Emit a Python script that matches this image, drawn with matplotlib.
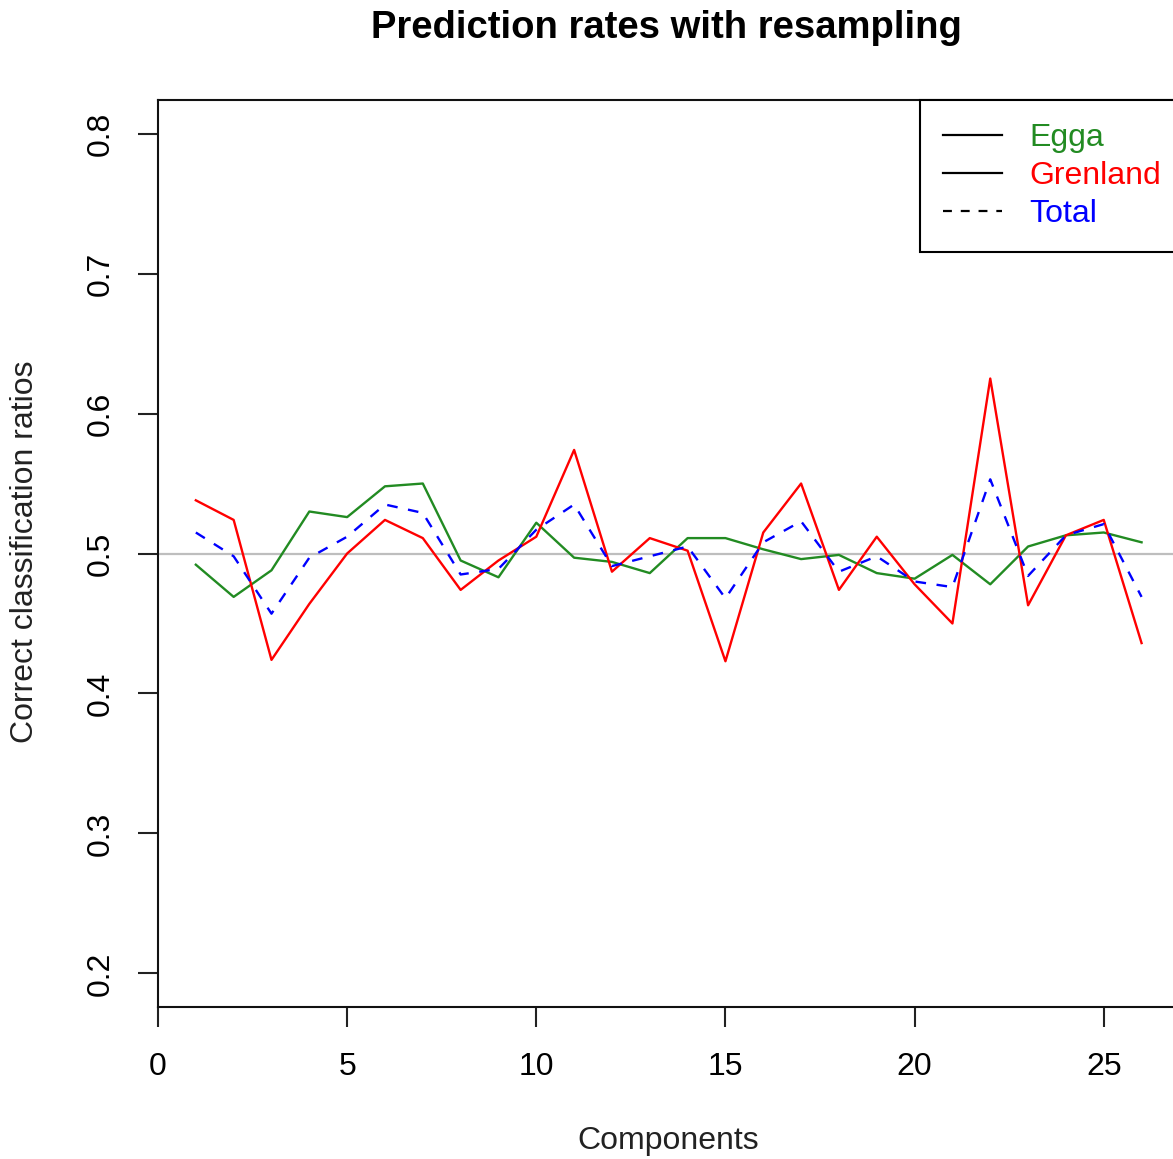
import matplotlib
matplotlib.use("Agg")
import matplotlib.pyplot as plt
from matplotlib.lines import Line2D

components = list(range(1, 27))
egga = [0.492, 0.469, 0.488, 0.530, 0.526, 0.548, 0.550, 0.495, 0.483, 0.522,
        0.497, 0.494, 0.486, 0.511, 0.511, 0.503, 0.496, 0.499, 0.486, 0.482,
        0.499, 0.478, 0.505, 0.513, 0.515, 0.508]
grenland = [0.538, 0.524, 0.424, 0.464, 0.500, 0.524, 0.511, 0.474, 0.495, 0.512,
            0.574, 0.487, 0.511, 0.502, 0.423, 0.515, 0.550, 0.474, 0.512, 0.478,
            0.450, 0.625, 0.463, 0.513, 0.524, 0.436]
total = [0.515, 0.498, 0.457, 0.497, 0.512, 0.535, 0.529, 0.485, 0.489, 0.517,
         0.535, 0.491, 0.498, 0.505, 0.468, 0.508, 0.523, 0.487, 0.498, 0.480,
         0.476, 0.553, 0.484, 0.513, 0.521, 0.469]
series_names = ["Egga", "Grenland", "Total"]
series_colors = ["#228B22", "#FF0000", "#0000FF"]
xticks = [0, 5, 10, 15, 20, 25]
yticks = [0.2, 0.3, 0.4, 0.5, 0.6, 0.7, 0.8]

plt.rcParams['font.family'] = ['Liberation Sans', 'DejaVu Sans']

W, H = 1173, 1159
fig = plt.figure(figsize=(W / 100, H / 100), dpi=100)
left, right, top, bottom = 158, 1179.4, 100, 1007
ax = fig.add_axes([left / W, 1 - bottom / H, (right - left) / W, (bottom - top) / H])

ax.axhline(0.5, color="#BEBEBE", lw=1.6, zorder=1)
lw = 1.7
ax.plot(components, egga, color=series_colors[0], lw=lw, zorder=2)
ax.plot(components, grenland, color=series_colors[1], lw=lw, zorder=3)
ax.plot(components, total, color=series_colors[2], lw=lw, dashes=(4.5, 4.5), zorder=4)

ax.set_xlim(0, 27)
ax.set_ylim(0.176, 0.824)
ax.set_xticks(xticks)
ax.set_xticklabels([str(t) for t in xticks])
ax.set_yticks(yticks)
ax.set_yticklabels([f"{t:.1f}" for t in yticks], rotation=90, va="center")
ax.tick_params(direction="out", length=14.4, width=1.5, labelsize=23, pad=16, color="#222222")
ax.tick_params(axis="x", pad=18)
for s in ax.spines.values():
    s.set_linewidth(1.5)
    s.set_color("#111111")

fig.text(666 / W, 1 - 28 / H, "Prediction rates with resampling", ha="center", va="center",
         fontsize=27.5, fontweight="bold")
fig.text(668 / W, 1 - 1141 / H, "Components", ha="center", va="center", fontsize=23, color="#222222")
fig.text(25 / W, 1 - 552 / H, "Correct classification ratios", ha="center", va="center",
         rotation=90, fontsize=23, color="#222222")

handles = [Line2D([], [], color="black", lw=1.6),
           Line2D([], [], color="black", lw=1.6),
           Line2D([], [], color="black", lw=1.6, dashes=(4, 4))]
leg = ax.legend(handles, series_names, loc="upper left",
                bbox_to_anchor=((920 - left) / (right - left), 1.0),
                borderaxespad=0, fancybox=False, fontsize=23, frameon=True,
                handlelength=1.85, handletextpad=0.85, borderpad=0.72, labelspacing=0.25)
leg.get_frame().set_edgecolor("black")
leg.get_frame().set_linewidth(1.5)
leg.get_frame().set_alpha(1)
for t, c in zip(leg.get_texts(), series_colors):
    t.set_color(c)

fig.savefig("out.png", dpi=100)
